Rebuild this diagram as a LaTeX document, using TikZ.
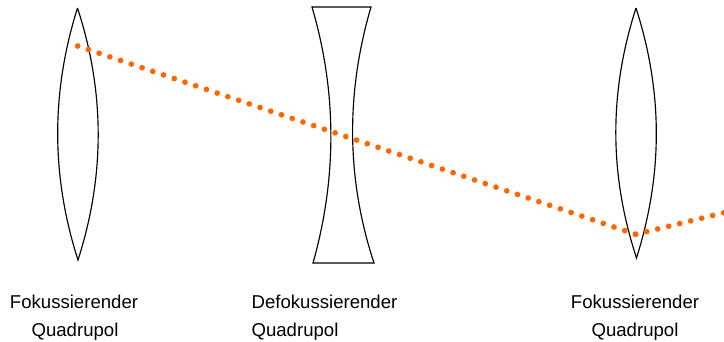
\documentclass[tikz,border=0pt]{standalone}
\usepackage{fontspec}
\setmainfont{Liberation Sans}
\tikzset{
  lens/.style={draw=black,line width=1.15pt,fill=none},
  beam/.style={draw={rgb,255:red,255;green,102;blue,0},line width=5.7pt,line cap=round,dash pattern=on 0pt off 11.32pt},
  lab/.style={font=\fontsize{18.6}{18.6}\selectfont,text=black,inner sep=0pt,anchor=base}
}
\begin{document}
\begin{tikzpicture}[x=1pt,y=-1pt]
\useasboundingbox (0,0) rectangle (724,341);
\fill[white] (0,0) rectangle (724,341);
% lenses
\coordinate (l1t) at (77.5,8); \coordinate (l1b) at (78,260);
\draw[lens] (l1t) .. controls (51,92) and (51,176) .. (l1b) .. controls (105,176) and (105,92) .. (l1t);
\coordinate (l2a) at (312,7); \coordinate (l2b) at (371,7);
\coordinate (l2c) at (374,263); \coordinate (l2d) at (313,263);
\draw[lens] (l2a) -- (l2b) .. controls (346,92) and (346,178) .. (l2c) -- (l2d) .. controls (337,178) and (337,92) .. (l2a) -- cycle;
\coordinate (l3t) at (636,8); \coordinate (l3b) at (636.5,258);
\draw[lens] (l3t) .. controls (609,92) and (609,174) .. (l3b) .. controls (663,174) and (663,92) .. (l3t);
% beam
\coordinate (b0) at (77.7,46); \coordinate (b1) at (635.7,234.3); \coordinate (b2) at (727,212);
\draw[beam] (b0) -- (b1);
\draw[beam] (b1) -- (b2);
% labels
\node[lab] (t1) at (74,308) {Fokussierender};
\node[lab] (t2) at (75,336.5) {Quadrupol};
\node[lab] (t3) at (324.5,308) {Defokussierender};
\node[lab] (t4) at (295,336.5) {Quadrupol};
\node[lab] (t5) at (635,308) {Fokussierender};
\node[lab] (t6) at (635,336.5) {Quadrupol};
\end{tikzpicture}
\end{document}
